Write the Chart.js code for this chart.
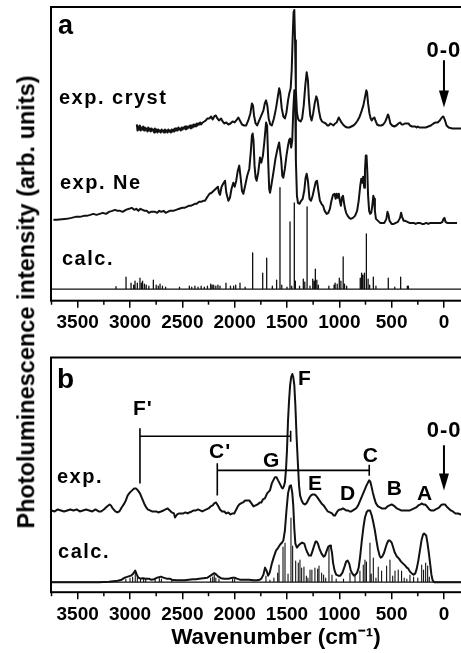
<!DOCTYPE html>
<html>
<head>
<meta charset="utf-8">
<script src="https://cdn.jsdelivr.net/npm/chart.js@4.4.1/dist/chart.umd.min.js"></script>
<style>
  html, body { margin: 0; padding: 0; background: #fff; overflow: hidden; width: 461px; height: 653px; }
  canvas { position: absolute; left: 0; }
  #chartA { top: 0; }
  #chartB { top: 330px; }
  #ytitle {
    position: absolute; left: 27px; top: 302px;
    transform: translate(-50%, -50%) rotate(-90deg);
    white-space: nowrap; color: #000;
    font: bold 23.5px "Liberation Sans", Arial, sans-serif; line-height: 23.5px;
  }
</style>
</head>
<body>
<canvas id="chartA" width="505" height="340"></canvas>
<canvas id="chartB" width="505" height="323"></canvas>
<div id="ytitle">Photoluminescence intensity (arb. units)</div>
<script>
const FONT = '"Liberation Sans", Arial, sans-serif';

// x axis (wavenumber, cm-1), drawn reversed; the right part runs off the page
const xMin = -545, xMax = 3755;
const majorTicks = [3500, 3000, 2500, 2000, 1500, 1000, 500, 0];
const minorTicks = [3750, 3250, 2750, 2250, 1750, 1250, 750, 250];

// ---- panel a : [wavenumber, intensity] ----
const crystA = [
  [2935,176],[2928,170],[2921,174],[2914,171],[2906,175],[2898,170],[2890,173],[2882,171],[2874,174],[2866,170],
  [2858,173],[2850,171],[2842,172],[2834,169],[2826,173],[2818,170],[2810,172],[2802,169],[2794,172],[2786,170],
  [2778,171],[2770,168],[2762,172],[2754,169],[2746,171],[2738,168],[2730,171],[2722,169],[2714,170],[2706,168],
  [2698,171],[2690,169],[2682,170],[2674,168],[2666,171],[2658,169],[2650,170],[2642,168],[2634,171],[2626,169],
  [2618,170],[2610,168],[2602,171],[2594,169],[2586,171],[2578,169],[2570,172],[2562,170],[2554,172],[2546,170],
  [2538,173],[2530,171],[2522,172],[2514,170],[2506,173],[2498,171],[2490,173],[2482,172],[2474,174],[2466,171],
  [2458,174],[2450,172],[2442,174],[2434,173],[2426,175],[2418,172],[2410,175],[2402,173],[2394,176],[2386,174],
  [2378,176],[2370,174],[2362,177],[2354,175],[2346,177],[2338,176],[2330,178],[2320,176],[2305,178],[2290,179],
  [2275,180],[2260,182],[2240,182],[2225,184],[2210,181],[2195,184],[2180,185],[2165,182],[2150,180],[2130,182],
  [2115,179],[2100,177],[2080,178],[2060,176],[2040,177],[2020,179],[2000,178],[1985,180],[1965,183],[1950,180],
  [1930,176],[1910,175],[1890,175],[1870,180],[1850,187],[1835,197],[1825,195],[1815,185],[1800,177],[1785,175],
  [1765,180],[1745,185],[1725,190],[1712,197],[1700,200],[1688,195],[1675,182],[1660,176],[1645,175],[1625,182],
  [1605,192],[1590,202],[1575,212],[1565,208],[1550,192],[1535,184],[1520,182],[1505,188],[1490,200],[1478,207],
  [1465,212],[1455,230],[1445,265],[1437,288],[1430,290],[1423,260],[1415,210],[1405,188],[1395,182],[1385,180],
  [1370,179],[1355,182],[1340,195],[1325,215],[1312,228],[1300,220],[1290,200],[1278,185],[1265,180],[1250,187],
  [1235,197],[1220,204],[1208,200],[1195,190],[1180,182],[1165,179],[1150,178],[1130,177],[1115,175],[1100,175],
  [1085,177],[1070,176],[1055,175],[1040,177],[1025,178],[1005,183],[995,181],[980,178],[965,176],[945,174],
  [925,173],[905,173],[885,174],[865,175],[845,177],[825,180],[805,184],[785,190],[770,195],[755,203],
  [742,210],[735,208],[725,197],[712,187],[700,182],[690,180],[678,182],[665,183],[655,180],[640,176],
  [620,175],[600,175],[580,176],[560,179],[545,183],[535,186],[525,183],[512,177],[495,175],[475,174],
  [455,175],[435,177],[420,178],[405,176],[390,176],[375,177],[355,177],[340,177],[325,175],[305,174],
  [290,174],[275,174],[262,173],[250,174],[235,173],[215,173],[195,173],[175,173],[150,174],[125,175],
  [100,177],[80,178],[60,178],[40,180],[20,183],[6,184],[-10,180],[-25,175],[-45,173],[-80,172],
  [-120,172],[-160,172],[-210,172]
];

const neonA = [
  [3732,81],[3700,81],[3650,81.5],[3605,82],[3560,83],[3520,84],[3480,84],[3440,85],[3414,85],[3380,86],
  [3350,87],[3320,86],[3290,87],[3260,88],[3230,87],[3200,89],[3170,90],[3143,91],[3120,90],[3095,90],
  [3070,89],[3040,91],[3010,92],[2984,93],[2960,91],[2940,92],[2920,90],[2900,92],[2880,91],[2860,90],
  [2841,90],[2820,88],[2800,89],[2780,89],[2760,89],[2740,88],[2720,90],[2700,89],[2680,90],[2660,88],
  [2640,89],[2620,90],[2586,90],[2560,91],[2530,92],[2500,93],[2480,93],[2459,94],[2440,95],[2420,95],
  [2400,96],[2380,97],[2363,97],[2340,99],[2320,99],[2300,100],[2283,100],[2260,104],[2240,107],[2220,108],
  [2200,110],[2180,112],[2160,114],[2150,108],[2140,106],[2125,114],[2110,117],[2092,120],[2080,108],[2060,100],
  [2045,103],[2030,112],[2013,118],[2000,114],[1985,120],[1970,130],[1956,135],[1945,125],[1930,110],[1917,107],
  [1900,115],[1880,125],[1860,132],[1845,150],[1835,165],[1828,167],[1820,160],[1810,135],[1800,123],[1790,120],
  [1775,128],[1758,143],[1745,138],[1730,145],[1715,160],[1700,178],[1690,175],[1680,140],[1670,112],[1662,108],
  [1650,115],[1630,128],[1610,142],[1590,152],[1575,158],[1567,158],[1555,140],[1545,125],[1535,123],[1520,132],
  [1505,145],[1490,155],[1478,161],[1470,162],[1460,153],[1450,160],[1440,190],[1430,210],[1422,200],[1415,140],
  [1405,105],[1395,98],[1380,97],[1365,100],[1350,102],[1335,110],[1322,123],[1312,127],[1300,120],[1285,102],
  [1270,100],[1255,105],[1240,112],[1225,119],[1213,120],[1200,110],[1185,100],[1170,97],[1155,95],[1140,90],
  [1121,87],[1105,88],[1090,92],[1075,100],[1060,106],[1045,107],[1035,102],[1025,107],[1015,103],[1005,107],
  [995,100],[985,95],[975,103],[965,105],[955,98],[945,92],[935,88],[920,85],[905,83],[890,82],
  [870,83],[850,85],[830,90],[815,100],[800,115],[790,122],[780,118],[772,124],[762,113],[755,130],
  [747,145],[740,145],[733,130],[725,105],[715,90],[705,87],[695,88],[685,95],[675,105],[668,102],
  [660,90],[650,82],[630,80],[610,78],[590,78],[570,78],[550,82],[540,89],[530,86],[520,80],
  [500,77],[480,77],[460,78],[440,79],[420,83],[410,88],[400,84],[385,80],[370,80],[350,79],
  [330,78],[310,78],[290,78],[270,77],[250,78],[230,78],[210,77],[190,77],[170,78],[150,77],
  [130,78],[110,78],[90,78],[70,78],[50,78],[30,78],[15,79],[5,82],[-5,83],[-15,79],
  [-30,78],[-60,78],[-100,78],[-125,78]
];

// calculated line positions: [wavenumber, relative height]
const calcA = [
  [3134,2.5],[3038,12],[2990,6],[2965,4],[2952,8],[2930,6],[2905,11],[2890,6],[2880,8],[2862,5],
  [2845,4],[2820,3],[2777,9],[2750,4],[2730,3],[2713,5],[2690,3],[2660,2],[2527,2],[2433,3],
  [2410,2],[2380,3],[2350,2],[2320,3],[2290,2],[2260,3],[2229,5],[2215,4],[2200,4],[2180,3],
  [2160,4],[2140,3],[2083,6],[2040,3],[2010,3],[1990,4],[1949,6],[1900,2],[1828,36],[1732,16],
  [1694,31],[1640,3],[1599,9],[1567,101],[1550,4],[1500,2],[1471,67],[1455,3],[1430,86],[1420,8],
  [1380,3],[1344,10],[1330,7],[1308,82],[1280,3],[1254,10],[1240,8],[1229,20],[1215,9],[1200,4],
  [1100,3],[1050,4],[1040,6],[1020,5],[1000,11],[985,8],[963,32],[950,5],[930,3],[800,11],
  [787,16],[775,14],[760,16],[745,10],[739,55],[725,10],[710,4],[675,12],[650,3],[532,11],
  [470,2],[414,12],[350,3],[340,3]
];
const calcABase = 12;

// ---- panel b ----
const expB = [
  [3750,82],[3720,81],[3690,83],[3660,82],[3630,81],[3600,82],[3570,83],[3540,82],[3510,83],[3480,81],
  [3450,82],[3420,83],[3390,82],[3360,81],[3330,83],[3300,81],[3277,81],[3250,83],[3220,86],[3195,88],
  [3182,87],[3165,84],[3140,81],[3120,80],[3102,81],[3080,85],[3060,88],[3040,92],[3022,97],[3000,100],
  [2980,102],[2960,104],[2943,104],[2925,102],[2905,99],[2885,94],[2865,89],[2845,85],[2831,83],[2810,82],
  [2790,81],[2770,81],[2750,81],[2730,80],[2704,81],[2680,82],[2660,83],[2640,84],[2620,82],[2600,80],
  [2580,79],[2570,75],[2561,75],[2550,78],[2530,79],[2510,79],[2490,79],[2470,80],[2450,79],[2433,80],
  [2410,81],[2390,82],[2370,82],[2350,83],[2330,82],[2310,81],[2290,82],[2270,83],[2250,84],[2230,86],
  [2210,87],[2195,89],[2178,90],[2160,87],[2140,83],[2120,81],[2099,81],[2080,79],[2060,80],[2040,78],
  [2020,79],[2004,79],[1990,82],[1970,86],[1955,88],[1940,89],[1920,90],[1900,92],[1876,92],[1860,92],
  [1840,89],[1820,86],[1800,87],[1780,88],[1760,90],[1745,90],[1730,93],[1711,94],[1690,99],[1663,102],
  [1645,109],[1631,112],[1615,115],[1599,115],[1585,112],[1570,109],[1551,105],[1540,104],[1530,106],[1520,110],
  [1510,122],[1500,142],[1490,172],[1480,192],[1470,207],[1460,215],[1449,218],[1440,215],[1430,207],[1420,187],
  [1408,155],[1395,127],[1385,107],[1375,97],[1360,92],[1345,89],[1330,88],[1315,89],[1300,92],[1285,95],
  [1270,97],[1255,98],[1239,98],[1225,97],[1210,95],[1190,92],[1170,89],[1150,87],[1130,84],[1110,81],
  [1089,80],[1070,79],[1055,77],[1041,77],[1025,80],[1010,82],[995,83],[980,83],[965,84],[950,83],
  [935,82],[914,82],[900,81],[885,81],[870,82],[855,83],[840,84],[820,87],[800,92],[780,97],
  [760,102],[740,107],[725,110],[714,112],[705,111],[695,107],[680,100],[665,94],[650,89],[630,86],
  [611,85],[595,84],[580,84],[560,84],[540,86],[520,87],[500,88],[484,87],[470,86],[450,84],
  [430,83],[410,82],[390,82],[370,82],[350,82],[325,82],[305,83],[285,84],[265,85],[245,87],
  [225,88],[210,89],[198,88],[185,88],[170,87],[155,85],[140,83],[125,82],[110,82],[95,82],
  [80,83],[60,84],[45,85],[30,87],[15,88],[0,88],[-10,88],[-25,86],[-45,84],[-65,82],
  [-85,81],[-110,79],[-135,79],[-160,78],[-185,78],[-210,78]
];

const calcEnvB = [
  [3750,10.5],[3300,10.5],[3200,11],[3118,12],[3080,13],[3050,15],[3020,16],[2991,17],[2970,19],[2950,22],
  [2935,18],[2920,15],[2900,14],[2880,14.5],[2850,14],[2820,14],[2800,13],[2770,13.5],[2740,15],[2704,16],
  [2680,15],[2650,14],[2620,14],[2600,13],[2560,12.5],[2520,12.5],[2480,12.5],[2440,13],[2400,13.5],[2370,13.5],
  [2340,14],[2300,14.5],[2260,15],[2230,17],[2210,18.5],[2195,19.5],[2175,18],[2155,16],[2130,14.5],[2100,14],
  [2060,14],[2020,15],[2000,15],[1980,14],[1950,13],[1900,13],[1860,13],[1820,12.5],[1790,12.5],[1760,13],
  [1745,14],[1725,18],[1710,25],[1695,22],[1680,17],[1665,20],[1645,29],[1625,36],[1605,42],[1583,45],
  [1565,48],[1547,50],[1535,52],[1520,62],[1505,82],[1490,99],[1475,106],[1462,107],[1450,100],[1440,87],
  [1430,64],[1420,49],[1405,45],[1390,47],[1370,49],[1355,50],[1335,49],[1320,44],[1305,40],[1290,37],
  [1271,37],[1255,42],[1240,47],[1227,51],[1217,51],[1205,49],[1190,44],[1170,39],[1150,36],[1137,37],
  [1120,42],[1105,46],[1089,47],[1080,45],[1070,40],[1060,30],[1045,22],[1030,18],[1010,17],[990,17],
  [970,20],[950,26],[935,31],[920,32],[905,29],[890,22],[875,19],[860,17],[845,18],[830,20],
  [815,25],[800,37],[785,52],[770,65],[755,75],[740,80],[725,82],[707,82],[690,77],[675,70],
  [660,62],[645,52],[630,43],[615,37],[605,35],[590,36],[575,39],[560,44],[545,49],[530,52],
  [516,52],[500,50],[485,45],[470,40],[450,36],[430,34],[410,31],[390,29],[370,27],[355,25],
  [341,24],[325,21],[305,19],[290,18],[275,19],[260,24],[245,32],[230,42],[215,52],[200,58],
  [190,59],[182,59],[170,57],[158,50],[145,40],[130,27],[120,18],[110,13],[102,11.5],[90,10.5],
  [-545,10.5]
];

const calcSticksB = [
  [3040,3],[3000,4],[2975,5],[2950,10],[2930,6],[2900,3],[2870,4],[2850,3],[2760,3],[2720,4],
  [2700,3],[2600,2],[2230,4],[2210,5],[2195,7],[2180,4],[2150,3],[2020,3],[2000,3],
  [1701,6],[1663,2],[1625,4],[1589,9],[1576,17],[1538,35],[1519,39],[1490,8],[1462,64],[1446,36],
  [1417,21],[1392,19],[1376,22],[1360,14],[1338,15],[1315,6],[1300,4],[1280,12],[1262,12],[1233,14],
  [1207,13],[1194,16],[1169,9],[1150,7],[1130,4],[1099,34],[1070,7],[1030,3],[960,3],[898,9],
  [850,6],[803,11],[771,17],[755,22],[745,20],[738,19],[707,39],[695,8],[675,24],[650,4],
  [628,15],[596,11],[548,16],[516,22],[490,6],[468,11],[437,12],[405,11],[380,4],[355,3],
  [325,7],[290,5],[250,4],[213,17],[195,12],[175,19],[156,16],[140,5]
];
const calcBBase = 10.5;

// overtone / combination progressions F' -> F and C' -> C
const progressions = [[2905, 1465], [2166, 714]];

// ---- helpers ----
const toPts = arr => arr.map(([x, y]) => ({x, y}));
function toSticks(arr, base) {
  const out = [{x: xMax, y: base}];
  arr.forEach(([x, h]) => out.push({x, y: base}, {x, y: base + h}, {x, y: base}));
  out.push({x: xMin, y: base});
  return out;
}
const trace = (data, width) => ({
  data, borderColor: '#111', borderWidth: width, pointRadius: 0,
  tension: 0, fill: false, borderJoinStyle: 'round'
});

function xScale(withTitle) {
  return {
    type: 'linear', min: xMin, max: xMax, reverse: true,
    afterBuildTicks: s => { s.ticks = majorTicks.map(v => ({value: v})); },
    ticks: {
      color: '#000', padding: 4, autoSkip: false, maxRotation: 0,
      callback: v => String(v),
      font: {family: FONT, size: 19, weight: 'bold', lineHeight: 1.2}
    },
    grid: {display: true, drawOnChartArea: false, drawTicks: true, tickLength: 7, color: '#000', lineWidth: 1.5},
    border: {display: false},
    title: {
      display: withTitle, text: 'Wavenumber (cm\u207B\u00B9)', color: '#000',
      font: {family: FONT, size: 22.5, weight: 'bold', lineHeight: 1},
      padding: {top: -3, bottom: 0}
    }
  };
}

// frame, minor ticks and text labels drawn in data coordinates
function decorations(notes) {
  return {
    id: 'decor',
    afterDraw(chart) {
      const {ctx, chartArea: a, scales: {x, y}} = chart;
      ctx.save();
      ctx.strokeStyle = '#000';
      ctx.fillStyle = '#000';
      ctx.lineWidth = 2;
      ctx.strokeRect(a.left, a.top, a.right - a.left, a.bottom - a.top);

      ctx.lineWidth = 1.5;
      minorTicks.forEach(v => {
        const px = x.getPixelForValue(v);
        ctx.beginPath(); ctx.moveTo(px, a.bottom); ctx.lineTo(px, a.bottom + 4); ctx.stroke();
      });

      // progression brackets
      ctx.lineWidth = 1.6;
      (notes.brackets || []).forEach(([i, vLine, vLow, vHigh]) => {
        const [w1, w2] = progressions[i];
        const x1 = x.getPixelForValue(w1), x2 = x.getPixelForValue(w2);
        const yl = y.getPixelForValue(vLine);
        ctx.beginPath();
        ctx.moveTo(x1, y.getPixelForValue(vHigh)); ctx.lineTo(x1, y.getPixelForValue(vLow));
        ctx.moveTo(x1, yl); ctx.lineTo(x2, yl);
        ctx.moveTo(x2, yl - 5.5); ctx.lineTo(x2, yl + 5.5);
        ctx.stroke();
      });

      // 0-0 arrows
      (notes.arrows || []).forEach(([w, vTop, vTip]) => {
        const px = x.getPixelForValue(w);
        const y1 = y.getPixelForValue(vTop), y2 = y.getPixelForValue(vTip);
        ctx.lineWidth = 2;
        ctx.beginPath(); ctx.moveTo(px, y1); ctx.lineTo(px, y2 - 10); ctx.stroke();
        ctx.beginPath();
        ctx.moveTo(px, y2); ctx.lineTo(px - 5, y2 - 17); ctx.lineTo(px + 5, y2 - 17); ctx.closePath();
        ctx.fill();
      });

      ctx.textAlign = 'left';
      ctx.textBaseline = 'alphabetic';
      notes.texts.forEach(([t, w, v, size, spacing]) => {
        ctx.font = `bold ${size}px ${FONT}`;
        ctx.letterSpacing = spacing + 'px';
        ctx.fillText(t, x.getPixelForValue(w), y.getPixelForValue(v));
      });
      ctx.letterSpacing = '0px';
      ctx.restore();
    }
  };
}

const notesA = {
  texts: [
    ['a', 3688, 266, 27, 0],
    ['exp. cryst', 3679, 196, 20, 1.5],
    ['exp. Ne', 3669, 112, 20, 1.5],
    ['calc.', 3650, 36, 20, 1.5],
    ['0-0', 167, 243.5, 22, 1]
  ],
  arrows: [[0, 240, 193]]
};

const notesB = {
  texts: [
    ['b', 3698, 204, 28, 0],
    ['exp.', 3698, 109, 20, 1.5],
    ['calc.', 3688, 35, 20, 1.5],
    ["F'", 2972, 177, 21, 1],
    ["C'", 2245, 134, 21, 1],
    ['G', 1729, 125, 21, 0],
    ['F', 1395, 207, 21, 0],
    ['E', 1299, 102, 21, 0],
    ['D', 994, 92, 21, 0],
    ['C', 777, 130, 21, 0],
    ['B', 547, 97, 21, 0],
    ['A', 258, 92, 21, 0],
    ['0-0', 165, 155, 22, 1]
  ],
  arrows: [[0, 147, 102]],
  brackets: [[0, 156, 109, 164], [1, 122, 97, 129]]
};

const common = {
  responsive: false,
  animation: false,
  plugins: {legend: {display: false}, tooltip: {enabled: false}},
  elements: {line: {borderCapStyle: 'butt'}}
};

new Chart(document.getElementById('chartA'), {
  type: 'line',
  data: {
    datasets: [
      trace(toPts(crystA), 2),
      trace(toPts(neonA), 2),
      trace(toSticks(calcA, calcABase), 1.3)
    ]
  },
  options: {
    ...common,
    layout: {padding: {left: 51, top: 7, right: 4, bottom: 1.5}},
    scales: {x: xScale(false), y: {display: false, min: 0.5, max: 293}}
  },
  plugins: [decorations(notesA)]
});

new Chart(document.getElementById('chartB'), {
  type: 'line',
  data: {
    datasets: [
      trace(toPts(expB), 2),
      trace(toPts(calcEnvB), 2),
      trace(toSticks(calcSticksB, calcBBase), 1.1)
    ]
  },
  options: {
    ...common,
    layout: {padding: {left: 51, top: 27.5, right: 4, bottom: 3.5}},
    scales: {x: xScale(true), y: {display: false, min: 0.5, max: 234.5}}
  },
  plugins: [decorations(notesB)]
});
</script>
</body>
</html>
